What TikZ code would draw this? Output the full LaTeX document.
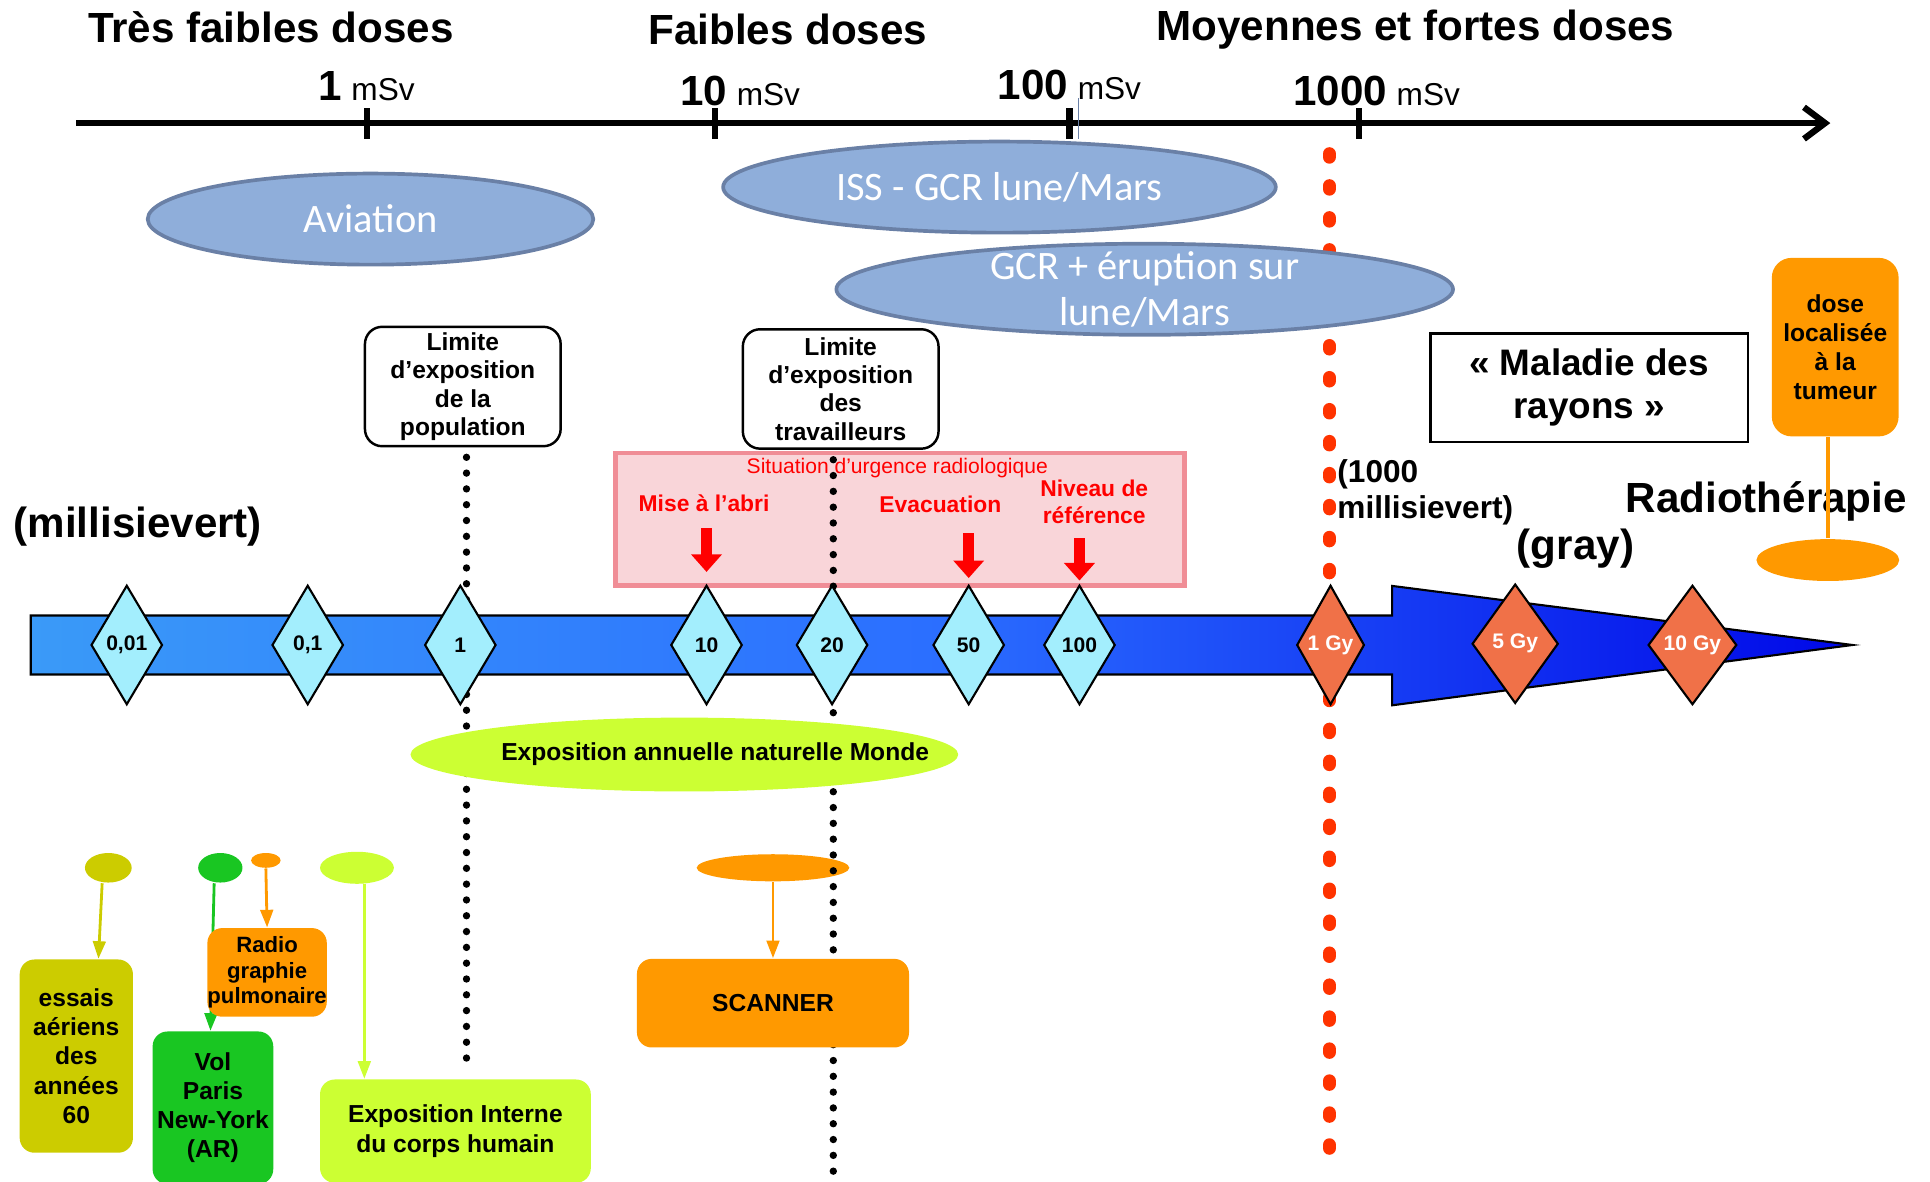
\documentclass[tikz,border=0pt]{standalone}
\usepackage{fontspec}
\setmainfont{Liberation Sans}
\newfontfamily\calfont{Carlito}
\usepackage{tikz}
\usetikzlibrary{arrows.meta,positioning,calc,shapes.geometric}
\definecolor{ellblue}{HTML}{8FAEDA}
\definecolor{ellline}{HTML}{6A80A6}
\definecolor{diacyan}{HTML}{A3EEFD}
\definecolor{diaorange}{HTML}{F07148}
\definecolor{urgfill}{HTML}{F9D5D9}
\definecolor{urgline}{HTML}{F08D96}
\definecolor{dotred}{HTML}{FF3300}
\definecolor{scanorange}{HTML}{FF9900}
\definecolor{limegreen}{HTML}{CCFF33}
\definecolor{olivebox}{HTML}{CCCC00}
\definecolor{volgreen}{HTML}{19C622}
\definecolor{barleft}{HTML}{3A9AF8}
\definecolor{barmid}{HTML}{2B6EFF}
\definecolor{barright}{HTML}{0008E8}
\newdimen\spx
\spx=0.01231cm
\newcommand{\fsz}[2]{\fontsize{#1}{#2}\selectfont}
\tikzset{
  hdr/.style={font=\bfseries\fsz{12}{14},inner sep=1pt},
  doseell/.style={ellipse,draw=ellline,line width=3\spx,fill=ellblue,inner sep=0pt,minimum height=74\spx,font=\calfont\fsz{11.5}{13},text=white,align=center},
  limbox/.style={draw,line width=0.7pt,rounded corners=14\spx,fill=white,align=center,font=\bfseries\fsz{7}{8.1},minimum width=159\spx,minimum height=97\spx,inner sep=0pt},
  dosedia/.style={diamond,draw,line width=0.6pt,fill=diacyan,inner sep=0pt,minimum width=58\spx,minimum height=97\spx,font=\bfseries\fsz{6}{7}},
  gydia/.style={dosedia,fill=diaorange,text=white},
  colbox/.style={rounded corners=12\spx,align=center,font=\bfseries\fsz{7}{8.3},inner sep=0pt},
  spotell/.style={ellipse,inner sep=0pt},
  dotline/.style={line width=2.1pt,line cap=round,dash pattern=on 0pt off 4.5pt},
  reddots/.style={draw=dotred,line width=3.8pt,line cap=round,dash pattern=on 0.9pt off 8.2pt},
  flowto/.style={-{Triangle[length=5pt,width=3.6pt]},line width=0.8pt},
  urgarrow/.style={draw=red,line width=3pt,-{Triangle[length=5pt,width=8.5pt]}},
}
\begin{document}
\begin{tikzpicture}[x=0.01231cm,y=-0.01231cm,
  ticklab/.style={anchor=base west,inner sep=0pt},
  redlab/.style={text=red,font=\bfseries\fsz{6.5}{7.7},align=center,inner sep=1pt},
  biglab/.style={font=\bfseries\fsz{12}{14},inner sep=0pt}]
  \useasboundingbox (0,0) rectangle (1568,960);
  \clip (0,0) rectangle (1568,960);
  % dose axis
  \node[hdr] (tfd) at (220,22) {Très faibles doses};
  \node[hdr] (fd) at (640,24) {Faibles doses};
  \node[hdr] (mfd) at (1150,24) {Moyennes et fortes doses};
  \coordinate (axL) at (62,100);
  \coordinate (axR) at (1487,100);
  \draw[line width=1.8pt,-{Straight Barb[length=6pt,width=9pt]}] (axL) -- (axR);
  \foreach \x in {298,581,869,1104} \draw[line width=1.8pt] (\x,88) -- (\x,113);
  \draw[ellline,line width=0.4pt] (876,80) -- (876,113);
  \node[ticklab] (t1) at (258,82) {{\bfseries\fsz{12}{14}1}\ \fsz{9}{11}mSv};
  \node[ticklab] (t10) at (552,86) {{\bfseries\fsz{12}{14}10}\ \fsz{9}{11}mSv};
  \node[ticklab] (t100) at (810,81) {{\bfseries\fsz{12}{14}100}\ \fsz{9}{11}mSv};
  \node[ticklab] (t1000) at (1050,86) {{\bfseries\fsz{12}{14}1000}\ \fsz{9}{11}mSv};
  % 1 Gy threshold
  \coordinate (gytop) at (1080,125);
  \coordinate (gybot) at (1080,935);
  \draw[reddots] (gytop) -- (gybot);
  % emergency situation
  \node[draw=urgline,fill=urgfill,line width=4\spx,minimum width=462\spx,minimum height=108\spx,inner sep=0pt] (urg) at (731,422) {};
  \node[text=red,font=\fsz{6}{7},inner sep=0pt] (urgtitle) at (729,380) {Situation d’urgence radiologique};
  \node[redlab] (abri) at (572,409) {Mise à l’abri};
  \node[redlab] (evac) at (764,410) {Evacuation};
  \node[redlab] (niv) at (889,408) {Niveau de\\référence};
  % dose bar
  \path[draw,line width=0.6pt,left color=barleft,right color=barright,middle color=barmid]
    (25,500) -- (1131,500) -- (1131,476) -- (1505,524) -- (1131,573) -- (1131,548) -- (25,548) -- cycle;
  \node[spotell,fill=scanorange,minimum width=124\spx,minimum height=22\spx] (escan) at (628,705) {};
  % exposure limits
  \node[limbox] (limpop) at (376,314) {Limite\\d’exposition\\de la\\population};
  \node[limbox] (limtrav) at (683,316) {Limite\\d’exposition\\des\\travailleurs};
  \coordinate (popend) at (379,870);
  \coordinate (travend) at (677,965);
  \draw[dotline,shorten <=8\spx] (limpop.south -| popend) -- (popend);
  \draw[dotline,shorten <=8\spx] (limtrav.south -| travend) -- (travend);
  % dose marks
  \node[dosedia] (d001) at (103,524) {0,01};
  \node[dosedia] (d01) at (250,524) {0,1};
  \node[dosedia] (d1) at (374,524) {1};
  \node[dosedia] (d10) at (574,524) {10};
  \node[dosedia] (d20) at (676,524) {20};
  \node[dosedia] (d50) at (787,524) {50};
  \node[dosedia] (d100) at (877,524) {100};
  \node[gydia,minimum width=55\spx] (g1) at (1081,524) {1 Gy};
  \node[gydia,minimum width=70\spx] (g5) at (1231,523) {5 Gy};
  \node[gydia,minimum width=72\spx] (g10) at (1375,524) {10 Gy};
  \draw[urgarrow,shorten <=10\spx,shorten >=10\spx] (abri.south -| d10.north) -- (d10.north);
  \draw[urgarrow,shorten <=13\spx,shorten >=5\spx] (evac.south -| d50.north) -- (d50.north);
  \draw[urgarrow,shorten <=8\spx,shorten >=3\spx] (niv.south -| d100.north) -- (d100.north);
  % space and aviation
  \node[doseell,minimum width=362\spx] (avia) at (301,178) {Aviation};
  \node[doseell,minimum width=449\spx] (iss) at (812,152) {ISS - GCR lune/Mars};
  \node[doseell,minimum width=501\spx,label={[font=\calfont\fsz{11.5}{13},text=white,align=center]center:GCR + éruption sur\\lune/Mars}] (gcr) at (930,235) {};
  \node[spotell,fill=limegreen,minimum width=445\spx,minimum height=60\spx,label={[font=\bfseries\fsz{7}{8},xshift=25\spx]center:Exposition annuelle naturelle Monde}] (natell) at (556,613) {};
  % units
  \node[biglab] (msv) at (112,428) {(millisievert)};
  \node[font=\bfseries\fsz{9}{10.5},align=left,anchor=west,inner sep=0pt] (kmsv) at (1086,400) {(1000\\millisievert)};
  \node[biglab] (gray) at (1280,446) {(gray)};
  \node[draw,line width=0.7pt,minimum width=258\spx,minimum height=88\spx,align=center,font=\bfseries\fsz{10.5}{12.3}] (maladie) at (1291,315) {« Maladie des\\rayons »};
  % radiotherapy
  \node[colbox,fill=scanorange,minimum width=103\spx,minimum height=145\spx,rounded corners=16\spx] (dosebox) at (1491,282) {dose\\localisée\\à la\\tumeur};
  \node[biglab] (radioth) at (1435,407) {Radiothérapie};
  \node[spotell,fill=scanorange,minimum width=116\spx,minimum height=34\spx] (rtell) at (1485,455) {};
  \draw[scanorange,line width=3\spx] (rtell.north) -- (rtell.north |- dosebox.south);
  % everyday and medical exposures
  \node[spotell,fill=olivebox,minimum width=38\spx,minimum height=24\spx] (eolive) at (88,705) {};
  \node[spotell,fill=volgreen,minimum width=36\spx,minimum height=24\spx] (egreen) at (179,705) {};
  \node[spotell,fill=scanorange,minimum width=24\spx,minimum height=12\spx] (eradio) at (216,699) {};
  \node[spotell,fill=limegreen,minimum width=60\spx,minimum height=26\spx] (elime) at (290,705) {};
  \node[colbox,fill=olivebox,minimum width=92\spx,minimum height=157\spx] (essais) at (62,858) {essais\\aériens\\des\\années\\60};
  \node[colbox,fill=volgreen,minimum width=98\spx,minimum height=124\spx] (vol) at (173,900) {Vol\\Paris\\New-York\\(AR)};
  \draw[flowto,volgreen] ([xshift=-5\spx]egreen.south) -- ([xshift=-2\spx]vol.north);
  \node[colbox,fill=scanorange,minimum width=97\spx,minimum height=72\spx,font=\bfseries\fsz{6.3}{7.3}] (radio) at (217,790) {Radio\\graphie\\pulmonaire};
  \node[colbox,fill=limegreen,minimum width=220\spx,minimum height=84\spx] (interne) at (370,919) {Exposition Interne\\du corps humain};
  \node[colbox,fill=scanorange,minimum width=221\spx,minimum height=72\spx] (scanner) at (628,815) {SCANNER};
  \draw[flowto,olivebox] ([xshift=-5\spx]eolive.south) -- ([xshift=18\spx]essais.north);
  \draw[flowto,scanorange] (eradio.south) -- (radio.north);
  \draw[flowto,limegreen] ([xshift=6\spx]elime.south) -- ([xshift=-74\spx]interne.north);
  \draw[flowto,scanorange] (escan.south) -- (scanner.north);
\end{tikzpicture}
\end{document}
